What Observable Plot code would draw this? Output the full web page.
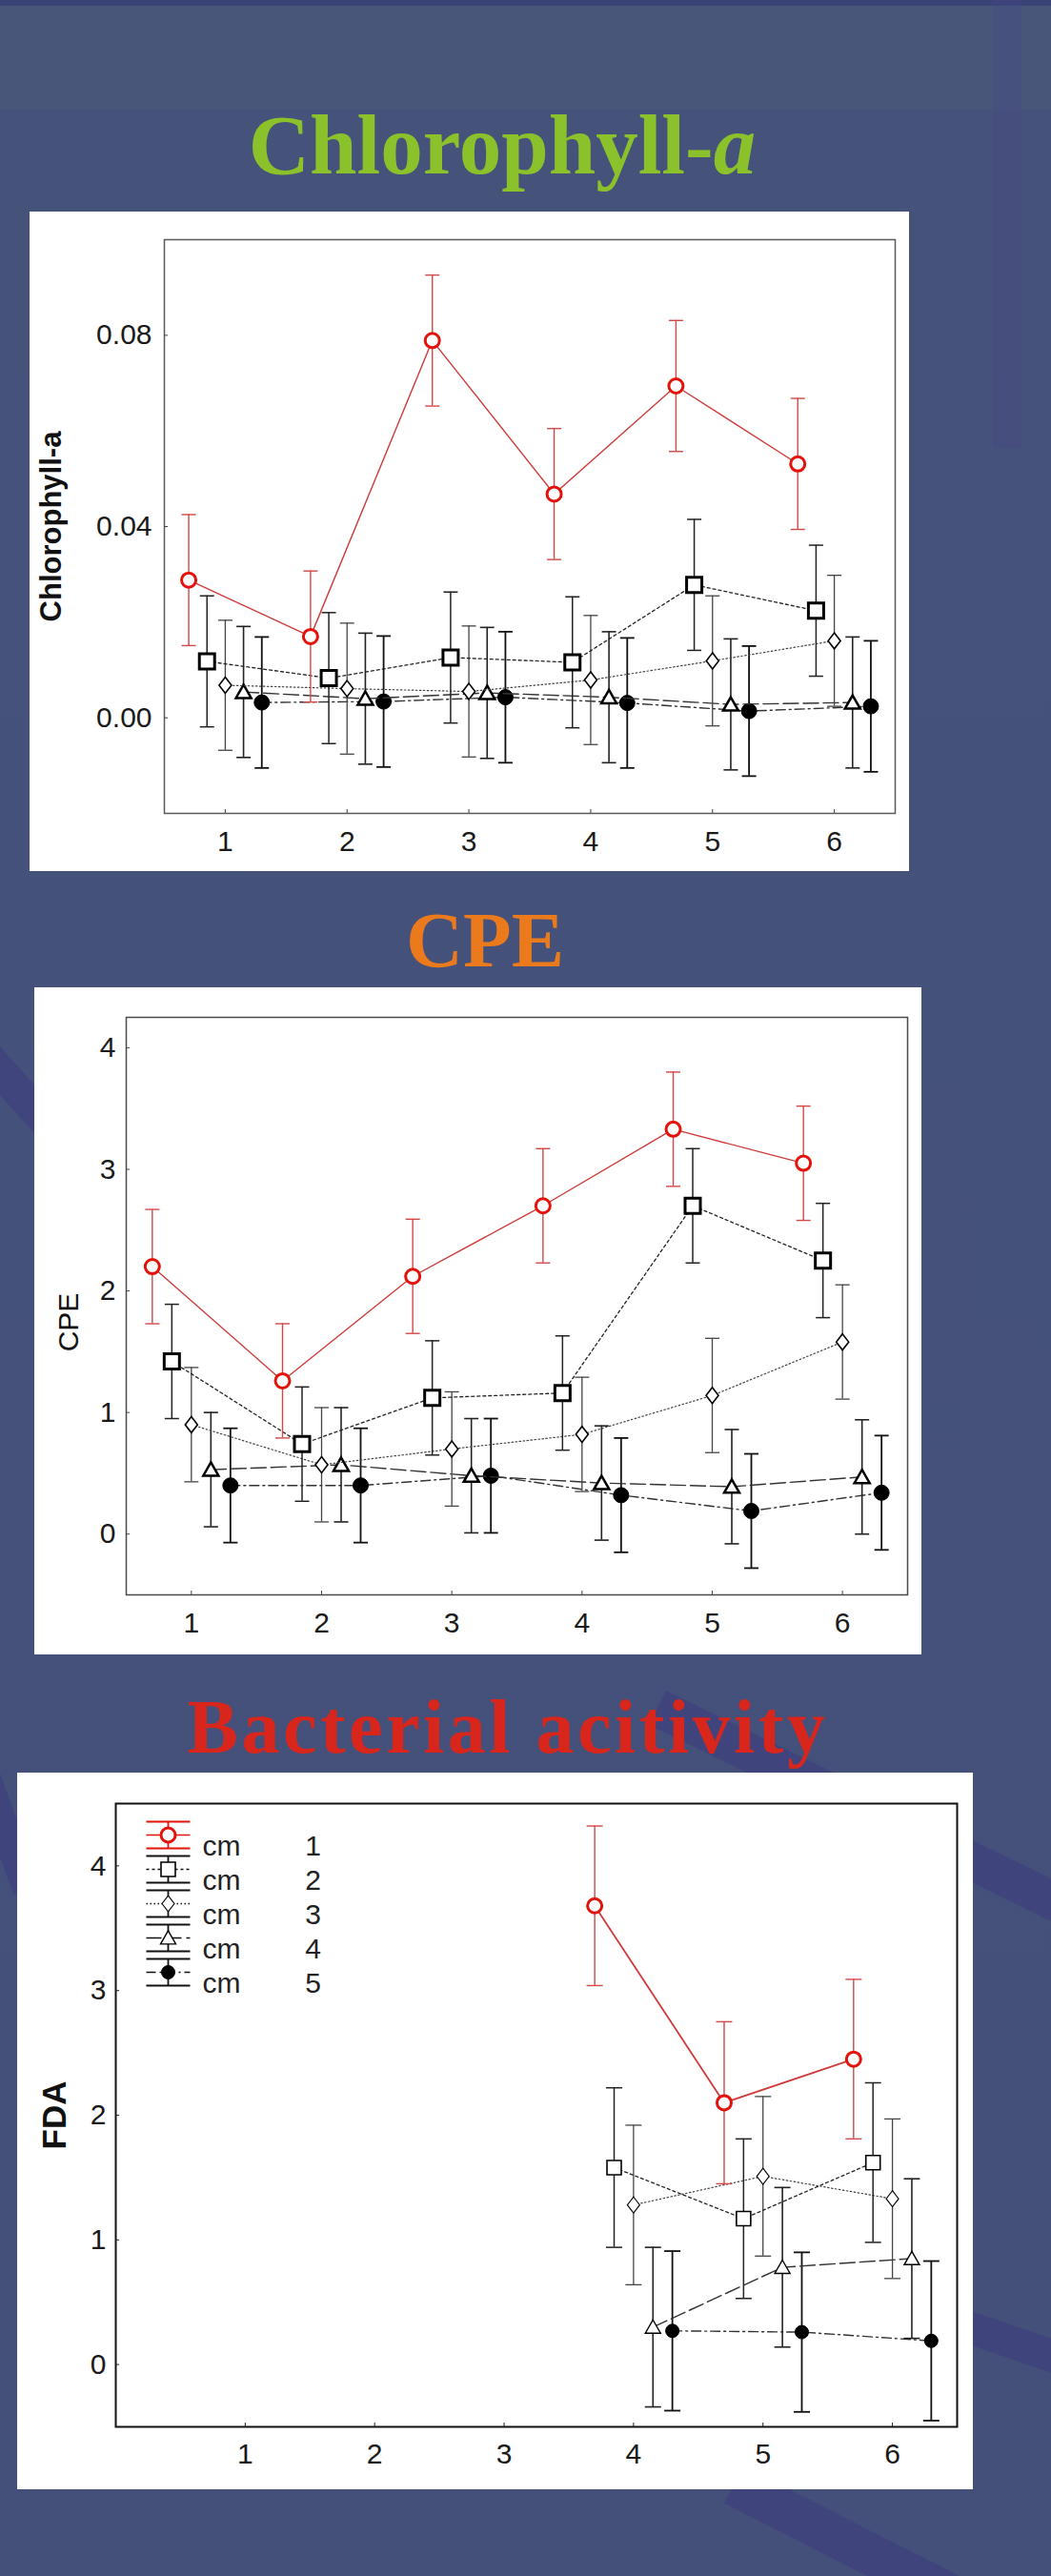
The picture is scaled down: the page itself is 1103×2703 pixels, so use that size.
<!DOCTYPE html>
<html>
<head>
<meta charset="utf-8">
<script src="https://cdn.jsdelivr.net/npm/d3@7"></script>
<script src="https://cdn.jsdelivr.net/npm/@observablehq/plot@0.6"></script>
<style>
html, body { margin: 0; padding: 0; }
body {
  width: 1103px; height: 2703px; position: relative; overflow: hidden;
  background: linear-gradient(to bottom, #3a4375 0px, #3a4375 6px, #485679 6px, #485679 115px, #45527a 115px, #44507a 100%);
  font-family: "Liberation Sans", Arial, sans-serif;
}
.title { position: absolute; white-space: nowrap; line-height: 1; transform: translateX(-50%);
  font-family: "Liberation Serif", "Times New Roman", serif; }
.chart { position: absolute; }
.chart svg { display: block; }
.stripe { position: absolute; transform-origin: 0 50%; background: rgba(62, 58, 128, 0.55); }
</style>
</head>
<body>
<div class="stripe" style="left:1042px;top:0;width:30px;height:470px;transform:none;background:rgba(72,72,135,0.35)"></div>
<div class="stripe" style="left:-60px;top:1040px;width:260px;height:34px;transform:rotate(48deg)"></div>
<div class="stripe" style="left:-40px;top:1780px;width:200px;height:30px;transform:rotate(70deg)"></div>
<div class="stripe" style="left:690px;top:1772px;width:620px;height:40px;transform:rotate(26deg)"></div>
<div class="stripe" style="left:880px;top:2378px;width:320px;height:34px;transform:rotate(19deg)"></div>
<div class="stripe" style="left:770px;top:2585px;width:420px;height:44px;transform:rotate(27deg)"></div>

<div class="title" style="left:527px;top:108px;font-size:89px;font-weight:bold;color:#8bc12b;">Chlorophyll-<i>a</i></div>
<div class="title" style="left:509px;top:945px;font-size:83px;font-weight:bold;color:#ea7a1b;">CPE</div>
<div class="title" style="left:533px;top:1772px;font-size:80px;font-weight:bold;color:#d8261c;letter-spacing:3.5px;">Bacterial acitivity</div>

<div id="c1" class="chart" style="left:31px;top:222px;"></div>
<div id="c2" class="chart" style="left:36px;top:1036px;"></div>
<div id="c3" class="chart" style="left:18px;top:1860px;"></div>

<script>
// ---------------- DATA ----------------
const categories = [1, 2, 3, 4, 5, 6];
const seriesLabels = ["1", "2", "3", "4", "5"];

// Chlorophyll-a (means, error half-widths)
const chlS1 = [0.0288, 0.0170, 0.0789, 0.0468, 0.0694, 0.0531];
const chlS2 = [0.0118, 0.0083, 0.0126, 0.0116, 0.0278, 0.0224];
const chlS3 = [0.0068, 0.0061, 0.0055, 0.0079, 0.0119, 0.0161];
const chlS4 = [0.0054, 0.0040, 0.0052, 0.0043, 0.0028, 0.0032];
const chlS5 = [0.0032, 0.0034, 0.0043, 0.0031, 0.0014, 0.0024];
const chlErr1 = [0.0137, 0.0137, 0.0137, 0.0137, 0.0137, 0.0137];
const chlErr2 = [0.0137, 0.0137, 0.0137, 0.0137, 0.0137, 0.0137];
const chlErr3 = [0.0136, 0.0137, 0.0137, 0.0135, 0.0136, 0.0137];
const chlErr4 = [0.0137, 0.0137, 0.0137, 0.0137, 0.0137, 0.0137];
const chlErr5 = [0.0137, 0.0137, 0.0137, 0.0136, 0.0136, 0.0137];
const chlTicks = [0, 0.04, 0.08];

// CPE
const cpeS1 = [2.20, 1.26, 2.12, 2.70, 3.33, 3.05];
const cpeS2 = [1.42, 0.74, 1.12, 1.16, 2.70, 2.25];
const cpeS3 = [0.90, 0.57, 0.70, 0.82, 1.14, 1.58];
const cpeS4 = [0.53, 0.57, 0.48, 0.42, 0.39, 0.47];
const cpeS5 = [0.40, 0.40, 0.48, 0.32, 0.19, 0.34];
const cpeErr1 = [0.47, 0.47, 0.47, 0.47, 0.47, 0.47];
const cpeErr2 = [0.47, 0.47, 0.47, 0.47, 0.47, 0.47];
const cpeErr3 = [0.47, 0.47, 0.47, 0.47, 0.47, 0.47];
const cpeErr4 = [0.47, 0.47, 0.47, 0.47, 0.47, 0.47];
const cpeErr5 = [0.47, 0.47, 0.47, 0.47, 0.47, 0.47];
const cpeTicks = [0, 1, 2, 3, 4];

// FDA (bacterial activity), measured only at categories 4-6
const fdaCategories = [4, 5, 6];
const fdaS1 = [3.68, 2.10, 2.45];
const fdaS2 = [1.58, 1.17, 1.62];
const fdaS3 = [1.28, 1.51, 1.33];
const fdaS4 = [0.30, 0.78, 0.85];
const fdaS5 = [0.27, 0.26, 0.19];
const fdaErr1 = [0.64, 0.65, 0.64];
const fdaErr2 = [0.64, 0.64, 0.64];
const fdaErr3 = [0.64, 0.64, 0.64];
const fdaErr4 = [0.64, 0.64, 0.64];
const fdaErr5 = [0.64, 0.64, 0.64];
const fdaTicks = [0, 1, 2, 3, 4];

// ---------------- HELPERS ----------------
const OFFS = [-0.3, -0.15, 0, 0.15, 0.3];
function buildRows(cats, series, errs) {
  const out = [];
  series.forEach((vals, s) => vals.forEach((v, i) => {
    out.push({s, x: cats[i] + OFFS[s], y: v, lo: v - errs[s][i], hi: v + errs[s][i]});
  }));
  return out;
}
const rad = size => Math.sqrt(size / Math.PI);
const symCap = {draw(ctx, size) { const w = rad(size); ctx.moveTo(-w, 0); ctx.lineTo(w, 0); }};
const symSquare = {draw(ctx, size) { const r = rad(size); ctx.moveTo(-r, -r); ctx.lineTo(r, -r); ctx.lineTo(r, r); ctx.lineTo(-r, r); ctx.closePath(); }};
const symDiamond = {draw(ctx, size) { const r = rad(size); ctx.moveTo(0, -1.3 * r); ctx.lineTo(r, 0); ctx.lineTo(0, 1.3 * r); ctx.lineTo(-r, 0); ctx.closePath(); }};
const symTriangle = {draw(ctx, size) { const r = rad(size); ctx.moveTo(0, -0.95 * r); ctx.lineTo(r, 0.8 * r); ctx.lineTo(-r, 0.8 * r); ctx.closePath(); }};
const symLegendBars = {draw(ctx) { ctx.moveTo(-23, -14); ctx.lineTo(23, -14); ctx.moveTo(-23, 14); ctx.lineTo(23, 14); ctx.moveTo(0, -14); ctx.lineTo(0, 14); }};
const symLegendLine = {draw(ctx) { ctx.moveTo(-23, 0); ctx.lineTo(23, 0); }};

function makeStyles(thin) {
  return [
    {sym: "circle", r: 7.5, stroke: "#e3120b", sw: 3, fill: "white", line: "#cf3a3a", lw: thin ? 1.8 : 1.4, dash: null, bar: "#d24848", bw: 1.4},
    {sym: symSquare, r: thin ? 7.5 : 8, stroke: "#000", sw: thin ? 1.6 : 3, fill: "white", line: "#222", lw: 1.3, dash: "3,3", bar: "#222", bw: 1.5},
    {sym: symDiamond, r: 6.5, stroke: "#000", sw: thin ? 1.1 : 1.6, fill: "white", line: "#444", lw: 1.2, dash: "1.5,2.5", bar: "#444", bw: 1.3},
    {sym: symTriangle, r: 8, stroke: "#000", sw: thin ? 1.4 : 2.5, fill: "white", line: "#333", lw: 1.4, dash: "16,5", bar: "#222", bw: 1.6},
    {sym: "circle", r: thin ? 7 : 8, stroke: "#000", sw: 1, fill: "#000", line: "#333", lw: 1.4, dash: "10,4,2,4", bar: "#111", bw: 1.8}
  ];
}

function seriesMarks(rows, styles, capR) {
  const marks = [];
  for (const s of [4, 3, 2, 1, 0]) {
    const st = styles[s];
    const d = rows.filter(r => r.s === s);
    marks.push(Plot.line(d, {x: "x", y: "y", stroke: st.line, strokeWidth: st.lw, strokeDasharray: st.dash}));
    marks.push(Plot.ruleX(d, {x: "x", y1: "lo", y2: "hi", stroke: st.bar, strokeWidth: st.bw}));
    marks.push(Plot.dot(d, {x: "x", y: "lo", symbol: symCap, r: capR, stroke: st.bar, strokeWidth: st.bw, fill: "none"}));
    marks.push(Plot.dot(d, {x: "x", y: "hi", symbol: symCap, r: capR, stroke: st.bar, strokeWidth: st.bw, fill: "none"}));
    marks.push(Plot.dot(d, {x: "x", y: "y", symbol: st.sym, r: st.r, stroke: st.stroke, strokeWidth: st.sw, fill: st.fill}));
  }
  return marks;
}

const baseStyle = {background: "white", color: "#1a1a1a", fontFamily: "Liberation Sans, Arial, sans-serif", fontSize: "30px", overflow: "visible"};

// ---------------- CHART 1 ----------------
{
  const rows = buildRows(categories, [chlS1, chlS2, chlS3, chlS4, chlS5], [chlErr1, chlErr2, chlErr3, chlErr4, chlErr5]);
  const styles = makeStyles(false);
  const p = Plot.plot({
    width: 923, height: 692,
    marginLeft: 141, marginRight: 15, marginTop: 29, marginBottom: 61,
    style: baseStyle,
    x: {domain: [0.5, 6.5]},
    y: {domain: [-0.02, 0.10]},
    marks: [
      Plot.frame({stroke: "#5a5a5a", strokeWidth: 1.5}),
      Plot.axisX({ticks: categories, tickFormat: d => String(d), tickSize: -4, tickPadding: 22, label: null, fontSize: 30, stroke: "#444"}),
      Plot.axisY({ticks: chlTicks, tickFormat: d3.format(".2f"), tickSize: -4, tickPadding: 17, label: null, fontSize: 30, stroke: "#444"}),
      Plot.text(["Chlorophyll-a"], {frameAnchor: "left", dx: -118, rotate: -90, textAnchor: "middle", fontSize: 31, fontWeight: "bold", fill: "#111"}),
      ...seriesMarks(rows, styles, 7.5)
    ]
  });
  document.getElementById("c1").append(p);
}

// ---------------- CHART 2 ----------------
{
  const rows = buildRows(categories, [cpeS1, cpeS2, cpeS3, cpeS4, cpeS5], [cpeErr1, cpeErr2, cpeErr3, cpeErr4, cpeErr5]);
  const styles = makeStyles(false);
  const p = Plot.plot({
    width: 931, height: 700,
    marginLeft: 96, marginRight: 15, marginTop: 31, marginBottom: 63,
    style: baseStyle,
    x: {domain: [0.5, 6.5]},
    y: {domain: [-0.5, 4.25]},
    marks: [
      Plot.frame({stroke: "#4a4a4a", strokeWidth: 1.5}),
      Plot.axisX({ticks: categories, tickFormat: d => String(d), tickSize: -4, tickPadding: 22, label: null, fontSize: 30, stroke: "#444"}),
      Plot.axisY({ticks: cpeTicks, tickFormat: d => String(d), tickSize: -4, tickPadding: 15, label: null, fontSize: 30, stroke: "#444"}),
      Plot.text(["CPE"], {frameAnchor: "left", dx: -60, dy: 17, rotate: -90, textAnchor: "middle", fontSize: 30, fill: "#111"}),
      ...seriesMarks(rows, styles, 7.5)
    ]
  });
  document.getElementById("c2").append(p);
}

// ---------------- CHART 3 ----------------
{
  const rows = buildRows(fdaCategories, [fdaS1, fdaS2, fdaS3, fdaS4, fdaS5], [fdaErr1, fdaErr2, fdaErr3, fdaErr4, fdaErr5]);
  const styles = makeStyles(true);
  const legend = [];
  styles.forEach((st, i) => {
    const dy = 33 + 36 * i;
    legend.push(
      Plot.dot([i], {frameAnchor: "top-left", dx: 55, dy, symbol: symLegendBars, r: 1, stroke: i === 0 ? "#e3120b" : "#111", strokeWidth: 1.8, fill: "none"}),
      Plot.dot([i], {frameAnchor: "top-left", dx: 55, dy, symbol: symLegendLine, r: 1, stroke: i === 0 ? "#e3120b" : "#111", strokeWidth: 1.5, strokeDasharray: st.dash, fill: "none"}),
      Plot.dot([i], {frameAnchor: "top-left", dx: 55, dy, symbol: st.sym, r: st.r, stroke: st.stroke, strokeWidth: st.sw, fill: st.fill}),
      Plot.text(["cm"], {frameAnchor: "top-left", dx: 91, dy, textAnchor: "start", fontSize: 30, fill: "#222"}),
      Plot.text([seriesLabels[i]], {frameAnchor: "top-left", dx: 207, dy, textAnchor: "middle", fontSize: 30, fill: "#222"})
    );
  });
  const p = Plot.plot({
    width: 1003, height: 752,
    marginLeft: 103, marginRight: 17, marginTop: 32, marginBottom: 66,
    style: baseStyle,
    x: {domain: [0, 6.5]},
    y: {domain: [-0.5, 4.5]},
    marks: [
      Plot.frame({stroke: "#111", strokeWidth: 2}),
      Plot.axisX({ticks: categories, tickFormat: d => String(d), tickSize: -4, tickPadding: 21, label: null, fontSize: 30, stroke: "#222"}),
      Plot.axisY({ticks: fdaTicks, tickFormat: d => String(d), tickSize: -4, tickPadding: 14, label: null, fontSize: 30, stroke: "#222"}),
      Plot.text(["FDA"], {frameAnchor: "left", dx: -64, rotate: -90, textAnchor: "middle", fontSize: 35, fontWeight: "bold", fill: "#111"}),
      ...seriesMarks(rows, styles, 8.5),
      ...legend
    ]
  });
  document.getElementById("c3").append(p);
}
</script>
</body>
</html>
